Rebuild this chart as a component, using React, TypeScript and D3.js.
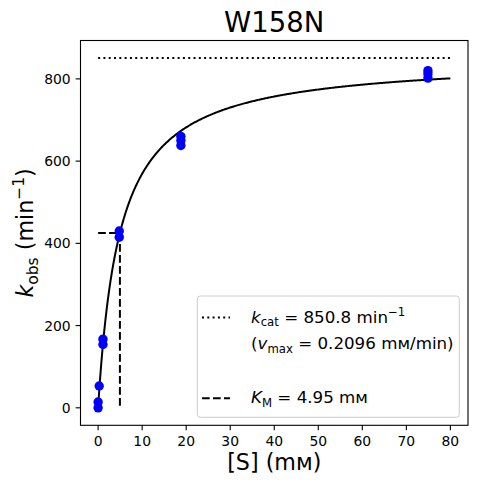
import React from "react";
import * as d3 from "d3";

const title = "W158N";
const substrate = [0, 0, 0.25, 1.1, 1.1, 4.8, 4.8, 18.8, 18.8, 18.8, 74.9, 74.9, 74.9];
const rates = [0, 14, 53, 154, 167, 415, 430, 638, 650, 660, 802, 812, 820];
const kcat = 850.8;
const km = 4.95;
const vmax = 0.2096;
const xTicks = [0, 10, 20, 30, 40, 50, 60, 70, 80];
const yTicks = [0, 200, 400, 600, 800];
const curveMax = 80;

const W = 477;
const H = 484;
const M = { left: 80.5, right: 468, top: 40.5, bottom: 425.3 };
const FONT = "DejaVu Sans, sans-serif";

export default function App() {
  const x = d3.scaleLinear().domain([-4, 84]).range([M.left, M.right]);
  const y = d3.scaleLinear().domain([-42.54, 893.34]).range([M.bottom, M.top]);

  const curveS = d3.range(0, 401).map((i) => (i / 400) * curveMax);
  const line = d3
    .line<number>()
    .x((s) => x(s))
    .y((s) => y((kcat * s) / (km + s)));

  const lw = 2;
  const legX = 197.3;
  const legY = 296;
  const legW = 262;
  const legH = 121.3;
  const textX = 251;
  const base1 = 322.5;
  const step = 26.9;
  const fs = 16.7;
  const sub = 11.7;

  return (
    <svg
      width={W}
      height={H}
      style={{ position: "absolute", left: 0, top: 0, background: "#fff" }}
      fontFamily={FONT}
    >
      <rect x={0} y={0} width={W} height={H} fill="#fff" />
      {/* kcat dotted line */}
      <line
        x1={x(0)}
        x2={x(curveMax)}
        y1={y(kcat)}
        y2={y(kcat)}
        stroke="#000"
        strokeWidth={lw}
        strokeDasharray="2 3.3"
      />
      {/* KM dashed lines */}
      <path
        d={`M${x(0)},${y(kcat / 2)}L${x(km)},${y(kcat / 2)}L${x(km)},${y(0)}`}
        fill="none"
        stroke="#000"
        strokeWidth={lw}
        strokeDasharray="7.7 3.3"
      />
      {/* fit curve */}
      <path d={line(curveS) || ""} fill="none" stroke="#000" strokeWidth={lw} />
      {/* points */}
      {substrate.map((s, i) => (
        <circle key={i} cx={x(s)} cy={y(rates[i])} r={4.7} fill="#0000ff" />
      ))}
      {/* frame */}
      <rect
        x={M.left}
        y={M.top}
        width={M.right - M.left}
        height={M.bottom - M.top}
        fill="none"
        stroke="#000"
        strokeWidth={1.1}
      />
      {/* x ticks */}
      {xTicks.map((t) => (
        <g key={t}>
          <line x1={x(t)} x2={x(t)} y1={M.bottom} y2={M.bottom + 4.9} stroke="#000" strokeWidth={1.1} />
          <text x={x(t)} y={446} textAnchor="middle" fontSize={13.9}>
            {t}
          </text>
        </g>
      ))}
      {/* y ticks */}
      {yTicks.map((t) => (
        <g key={t}>
          <line x1={M.left - 4.9} x2={M.left} y1={y(t)} y2={y(t)} stroke="#000" strokeWidth={1.1} />
          <text x={70.7} y={y(t) + 5} textAnchor="end" fontSize={13.9}>
            {t}
          </text>
        </g>
      ))}
      {/* title */}
      <text x={(M.left + M.right) / 2} y={32} textAnchor="middle" fontSize={27.5}>
        {title}
      </text>
      {/* x label */}
      <text x={(M.left + M.right) / 2} y={470} textAnchor="middle" fontSize={22.2}>
        [S] (mм)
      </text>
      {/* y label */}
      <text
        transform={`translate(33,${(M.top + M.bottom) / 2}) rotate(-90)`}
        textAnchor="middle"
        fontSize={22.2}
      >
        <tspan fontStyle="italic">k</tspan>
        <tspan fontSize={15.5} dy={4.5}>obs</tspan>
        <tspan dy={-4.5}> (min</tspan>
        <tspan fontSize={15.5} dy={-9}>−1</tspan>
        <tspan dy={9}>)</tspan>
      </text>
      {/* legend */}
      <rect
        x={legX}
        y={legY}
        width={legW}
        height={legH}
        rx={3}
        fill="#fff"
        fillOpacity={0.8}
        stroke="#cccccc"
        strokeWidth={1}
      />
      <line
        x1={202}
        x2={230}
        y1={base1 - 5}
        y2={base1 - 5}
        stroke="#000"
        strokeWidth={lw}
        strokeDasharray="2 3.3"
      />
      <text x={textX} y={base1} fontSize={fs}>
        <tspan fontStyle="italic">k</tspan>
        <tspan fontSize={sub} dy={3.5}>cat</tspan>
        <tspan dy={-3.5}>{` = ${kcat} min`}</tspan>
        <tspan fontSize={sub} dy={-7}>−1</tspan>
      </text>
      <text x={textX} y={base1 + step} fontSize={fs}>
        <tspan>(</tspan>
        <tspan fontStyle="italic">v</tspan>
        <tspan fontSize={sub} dy={3.5}>max</tspan>
        <tspan dy={-3.5}>{` = ${vmax} mм/min)`}</tspan>
      </text>
      <line
        x1={202}
        x2={230}
        y1={base1 + 3 * step - 5}
        y2={base1 + 3 * step - 5}
        stroke="#000"
        strokeWidth={lw}
        strokeDasharray="7.7 3.3"
      />
      <text x={textX} y={base1 + 3 * step} fontSize={fs}>
        <tspan fontStyle="italic">K</tspan>
        <tspan fontSize={sub} dy={3.5}>M</tspan>
        <tspan dy={-3.5}>{` = ${km} mм`}</tspan>
      </text>
    </svg>
  );
}
